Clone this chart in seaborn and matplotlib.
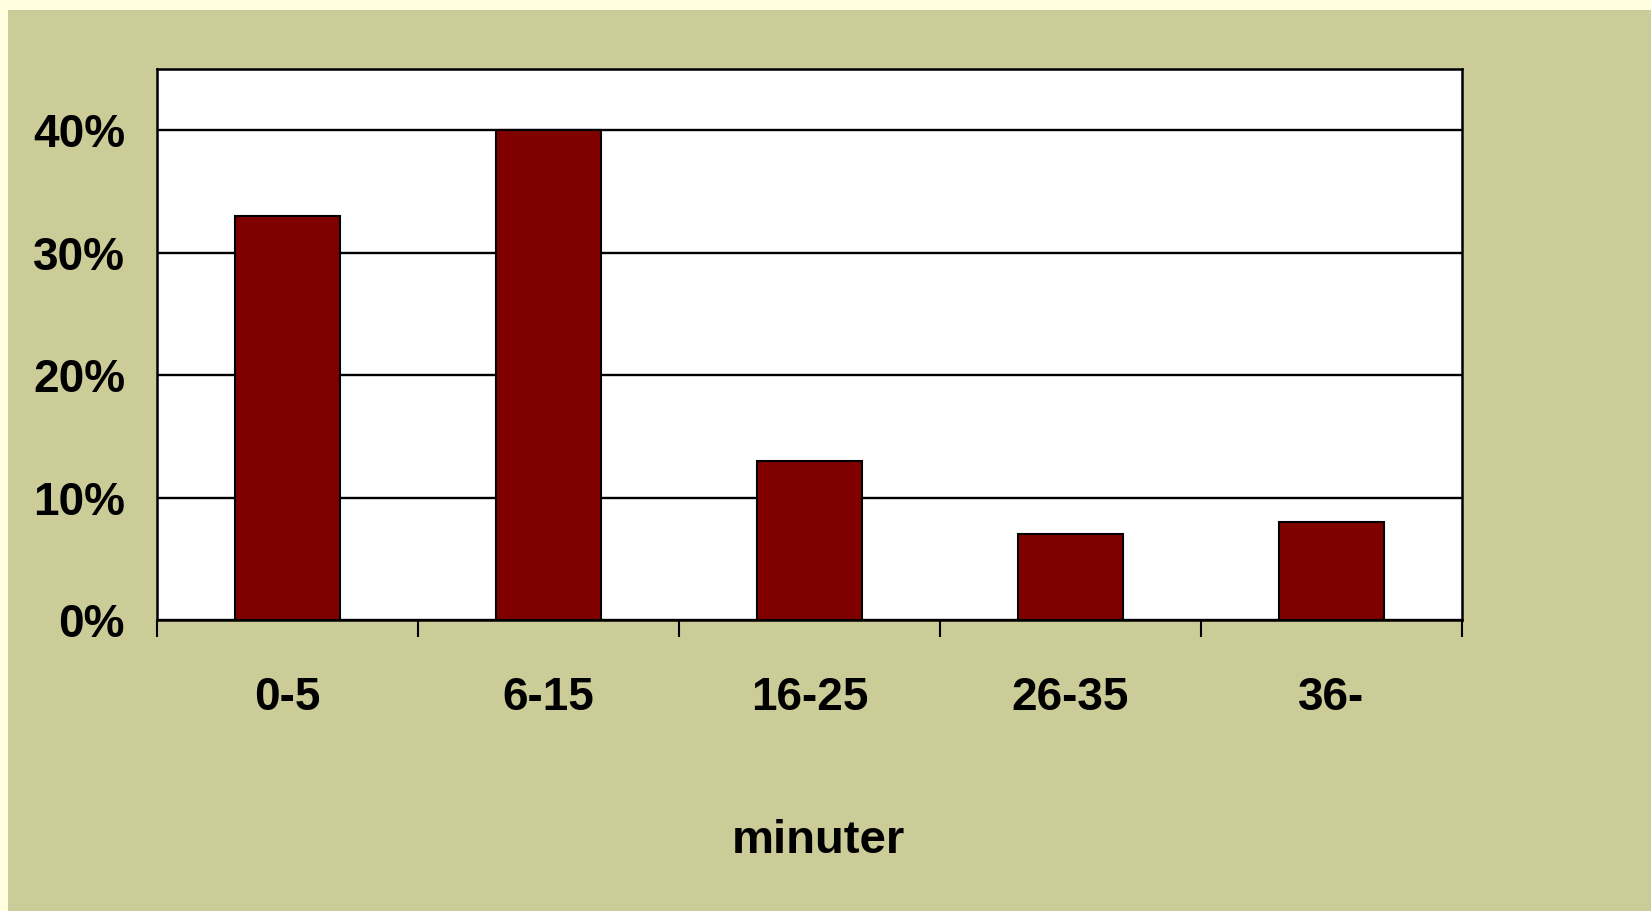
import numpy as np
import pandas as pd
import seaborn as sns
import matplotlib.pyplot as plt
from matplotlib.ticker import FixedLocator, PercentFormatter
from matplotlib.patches import Rectangle

kategorier = ["0-5", "6-15", "16-25", "26-35", "36-"]
andel = [33, 40, 13, 7, 8]
y_ticks = [0, 10, 20, 30, 40]

bakgrund = "#CCCC99"
ram = "#FFFFE0"
stapel = "#800000"

df = pd.DataFrame({"minuter": kategorier, "andel": andel})

sns.set_theme(style="white")
plt.rcParams["font.family"] = ["Liberation Sans", "DejaVu Sans"]
plt.rcParams["font.weight"] = "bold"

fig = plt.figure(figsize=(16.51, 9.11), dpi=100)
fig.patch.set_facecolor(bakgrund)
# ljus kant upptill och till vänster
fig.patches.append(Rectangle((0, 1 - 10 / 911), 1, 10 / 911, transform=fig.transFigure,
                             facecolor=ram, edgecolor="none", zorder=0))
fig.patches.append(Rectangle((0, 0), 8 / 1651, 1, transform=fig.transFigure,
                             facecolor=ram, edgecolor="none", zorder=0))

ax = fig.add_axes([157 / 1651, 1 - 620 / 911, (1462 - 157) / 1651, (620 - 69) / 911])
ax.set_facecolor("white")

sns.barplot(data=df, x="minuter", y="andel", color=stapel, width=0.4,
            edgecolor="black", linewidth=1.5, saturation=1, ax=ax, zorder=3)

ax.set_xlim(-0.5, 4.5)
ax.set_ylim(0, 45)
ax.yaxis.set_major_locator(FixedLocator(y_ticks))
ax.yaxis.set_major_formatter(PercentFormatter(decimals=0))
ax.yaxis.grid(True, color="black", linewidth=1.7, zorder=1)
ax.set_axisbelow(True)

for side in ax.spines.values():
    side.set_color("black")
    side.set_linewidth(1.8)

ax.tick_params(axis="y", direction="out", length=11, width=1.5, color="black",
               pad=12, labelsize=33, labelcolor="black")
ax.tick_params(axis="x", which="major", length=0, pad=40, labelsize=33, labelcolor="black")
ax.xaxis.set_minor_locator(FixedLocator(np.arange(-0.5, 5, 1)))
ax.tick_params(axis="x", which="minor", direction="out", length=12, width=1.5,
               color="black", bottom=True)

for lbl in ax.get_xticklabels() + ax.get_yticklabels():
    lbl.set_fontweight("bold")

ax.set_xlabel("minuter", fontsize=34, fontweight="bold", color="black")
ax.xaxis.set_label_coords(0.507, -0.362)
ax.set_ylabel("")

plt.savefig("out.png", dpi=100, facecolor=fig.get_facecolor())
